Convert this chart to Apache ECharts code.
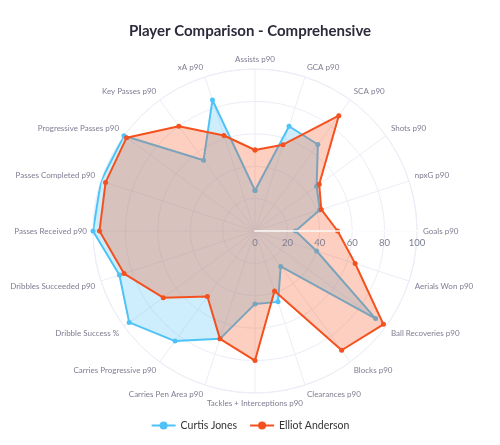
<!DOCTYPE html>
<html>
<head>
<meta charset="utf-8">
<script src="https://cdn.jsdelivr.net/npm/echarts@6/dist/echarts.min.js"></script>
<style>
  html, body { margin: 0; padding: 0; background: #fff; }
  #chart { width: 500px; height: 445px; }
</style>
</head>
<body>
<div id="chart"></div>
<script>
// categories, clockwise from the top
const categories = [
  'Assists p90', 'GCA p90', 'SCA p90', 'Shots p90', 'npxG p90', 'Goals p90',
  'Aerials Won p90', 'Ball Recoveries p90', 'Blocks p90', 'Clearances p90',
  'Tackles + Interceptions p90', 'Carries Pen Area p90', 'Carries Progressive p90',
  'Dribble Success %', 'Dribbles Succeeded p90', 'Passes Received p90',
  'Passes Completed p90', 'Progressive Passes p90', 'Key Passes p90', 'xA p90'
];
const curtisJones    = [25, 68, 66, 47, 42, 25, 40, 92, 27, 46, 45, 70, 84, 96, 88, 100, 100, 100, 54, 85];
const elliotAnderson = [50, 56, 88, 49, 43, 51, 65, 98, 91, 39, 80, 70, 50, 70, 85, 96, 97, 98, 80, 62];
const radialTicks = [0, 20, 40, 60, 80, 100];

const FONT = 'Lato, "Noto Sans", sans-serif';
const GRID = '#ebeef6';

// [radius, angleIndex] pairs, first point repeated to close the shape
function closeLoop(values) {
  const pts = values.map((v, i) => [v, i]);
  pts.push([values[0], values.length]);
  return pts;
}

function polarSeries(name, values, color, fill, z) {
  return {
    name: name,
    type: 'line',
    coordinateSystem: 'polar',
    polarIndex: 0,
    z: z,
    data: closeLoop(values),
    symbol: 'circle',
    symbolSize: 5,
    lineStyle: { color: color, width: 2 },
    itemStyle: { color: color },
    areaStyle: { color: fill, origin: 'start' },
    animation: false
  };
}

const chart = echarts.init(document.getElementById('chart'), null, { renderer: 'canvas' });

chart.setOption({
  backgroundColor: '#fff',
  title: {
    text: 'Player Comparison - Comprehensive',
    left: 'center',
    top: 19,
    textStyle: { fontFamily: FONT, fontSize: 15, fontWeight: 'bold', color: '#2b2b3b' }
  },
  legend: {
    bottom: 9,
    left: 'center',
    itemWidth: 24,
    itemHeight: 10,
    itemGap: 12,
    textStyle: { fontFamily: FONT, fontSize: 10.5, color: '#333' },
    data: ['Curtis Jones', 'Elliot Anderson']
  },
  polar: [
    { center: [255, 231], radius: 162 },
    { center: [255, 231], radius: 162 }
  ],
  angleAxis: [
    {
      polarIndex: 0,
      type: 'value',
      min: 0,
      max: categories.length,
      interval: 1,
      startAngle: 90,
      clockwise: true,
      axisLine: { show: true, lineStyle: { color: GRID, width: 1 } },
      axisTick: { show: false },
      splitLine: { show: true, lineStyle: { color: GRID, width: 1 } },
      axisLabel: {
        margin: 6,
        fontFamily: FONT,
        fontSize: 8,
        color: '#7d7d92',
        formatter: v => categories[v] || ''
      }
    },
    {
      polarIndex: 1,
      type: 'value',
      min: 0,
      max: 360,
      startAngle: 0,
      show: false
    }
  ],
  radiusAxis: [
    {
      polarIndex: 0,
      min: 0,
      max: 100,
      interval: 20,
      axisLine: { show: false },
      axisTick: { show: false },
      axisLabel: { show: false },
      splitLine: { show: true, lineStyle: { color: GRID, width: 1 } }
    },
    {
      polarIndex: 1,
      min: radialTicks[0],
      max: radialTicks[radialTicks.length - 1],
      interval: 20,
      z: 10,
      axisLine: { show: true, lineStyle: { color: 'rgba(255,255,255,0.7)', width: 2 } },
      axisTick: { show: false },
      splitLine: { show: false },
      axisLabel: {
        margin: -17,
        fontFamily: FONT,
        fontSize: 9.5,
        color: '#7d7d92'
      }
    }
  ],
  series: [
    polarSeries('Curtis Jones', curtisJones, '#4fc3f7', 'rgba(79,195,247,0.4)', 2),
    polarSeries('Elliot Anderson', elliotAnderson, '#f4511e', 'rgba(244,81,30,0.4)', 3)
  ]
});
</script>
</body>
</html>
